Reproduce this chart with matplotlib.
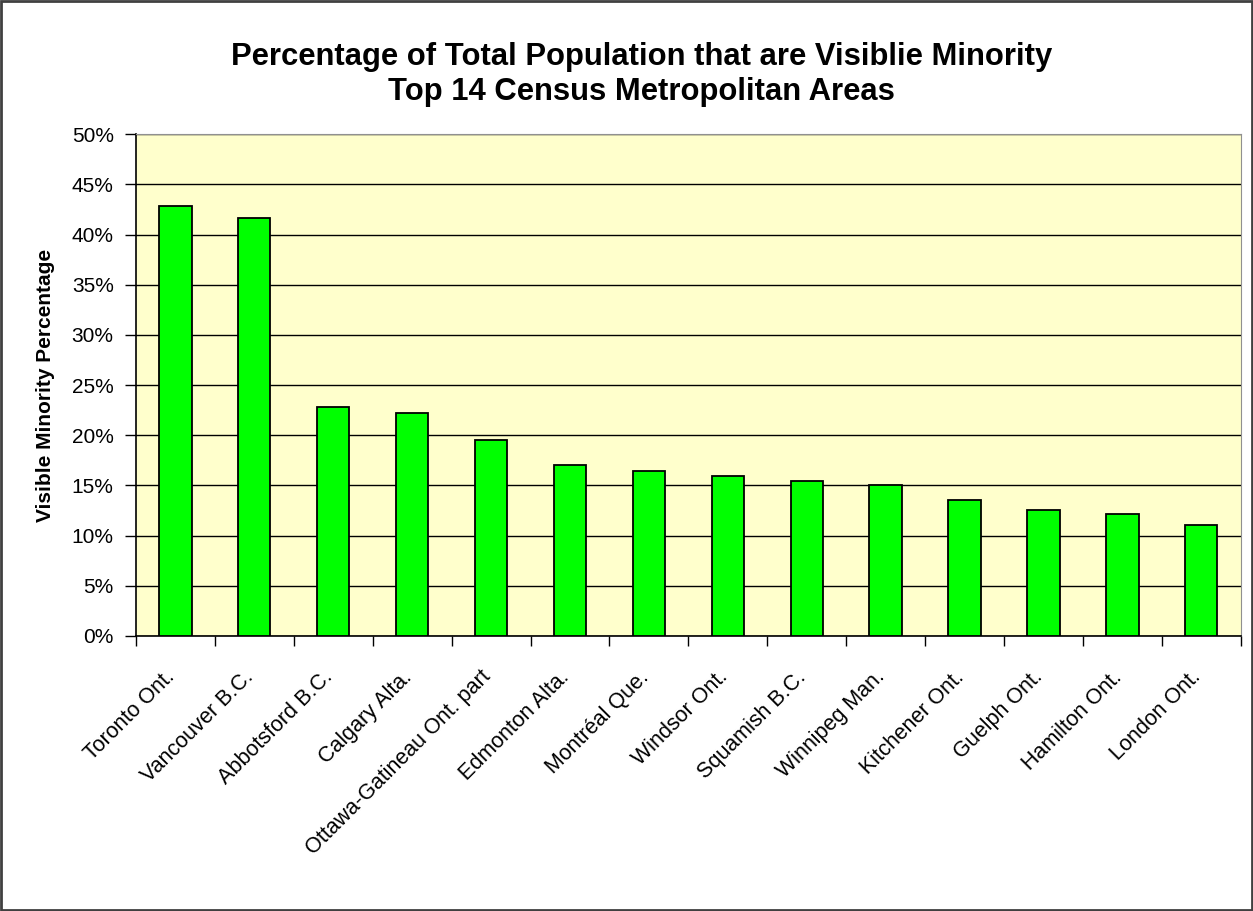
import numpy as np
import matplotlib
matplotlib.use('Agg')
from matplotlib import pyplot as plt
from matplotlib.ticker import PercentFormatter, FixedLocator
from matplotlib.patches import Rectangle
from matplotlib.transforms import ScaledTranslation

cities = ['Toronto Ont.', 'Vancouver B.C.', 'Abbotsford B.C.', 'Calgary Alta.',
          'Ottawa-Gatineau Ont. part', 'Edmonton Alta.', 'Montréal Que.',
          'Windsor Ont.', 'Squamish B.C.', 'Winnipeg Man.', 'Kitchener Ont.',
          'Guelph Ont.', 'Hamilton Ont.', 'London Ont.']
pct = [0.429, 0.417, 0.228, 0.222, 0.195, 0.170, 0.164,
       0.159, 0.154, 0.150, 0.136, 0.126, 0.122, 0.111]
yticks = np.arange(0, 0.501, 0.05)

plt.rcParams['font.family'] = ['Liberation Sans', 'DejaVu Sans']

fig = plt.figure(figsize=(12.53, 9.11), dpi=100)
ax = fig.add_axes([0.1085, 0.3019, 0.8817, 0.5507])
ax.set_facecolor('#FFFFCC')

x = np.arange(len(cities))
ax.bar(x, pct, width=0.41, color='#00FF00', edgecolor='black', linewidth=1.3, zorder=3)

ax.set_xlim(-0.5, len(cities) - 0.5)
ax.set_ylim(0, 0.5)
ax.set_yticks(yticks)
ax.yaxis.set_major_formatter(PercentFormatter(1, decimals=0))
ax.grid(axis='y', color='black', linewidth=1, zorder=1)
ax.set_axisbelow(True)

ax.set_xticks(x)
ax.set_xticklabels(cities, rotation=45, ha='right', va='top', rotation_mode='anchor')
ax.xaxis.set_minor_locator(FixedLocator(np.arange(-0.5, len(cities), 1)))
ax.tick_params(axis='x', which='major', length=0, pad=22, labelsize=15.5)
ax.tick_params(axis='x', which='minor', length=7, width=1, direction='out')
ax.tick_params(axis='y', length=8, width=1, direction='out', labelsize=15, pad=8)

# nudge the slanted labels left, like Excel places them
shift = ScaledTranslation(-11 / 100, 0, fig.dpi_scale_trans)
for lab in ax.get_xticklabels():
    lab.set_transform(lab.get_transform() + shift)

for s in ['top', 'right']:
    ax.spines[s].set_color('#909090')
for s in ['left', 'bottom']:
    ax.spines[s].set_color('black')
    ax.spines[s].set_linewidth(1.2)

ax.set_ylabel('Visible Minority Percentage', fontsize=15, fontweight='bold')
ax.yaxis.set_label_coords(-0.073, 0.5)

fig.text(0.512, 0.9374, 'Percentage of Total Population that are Visiblie Minority',
         ha='center', va='center', fontsize=22.3, fontweight='bold')
fig.text(0.512, 0.899, 'Top 14 Census Metropolitan Areas',
         ha='center', va='center', fontsize=22.3, fontweight='bold')

fig.patches.append(Rectangle((0.001, 0.001), 0.998, 0.998, transform=fig.transFigure,
                             fill=False, edgecolor='#404040', linewidth=2))

fig.savefig('out.png', dpi=100, facecolor='white')
